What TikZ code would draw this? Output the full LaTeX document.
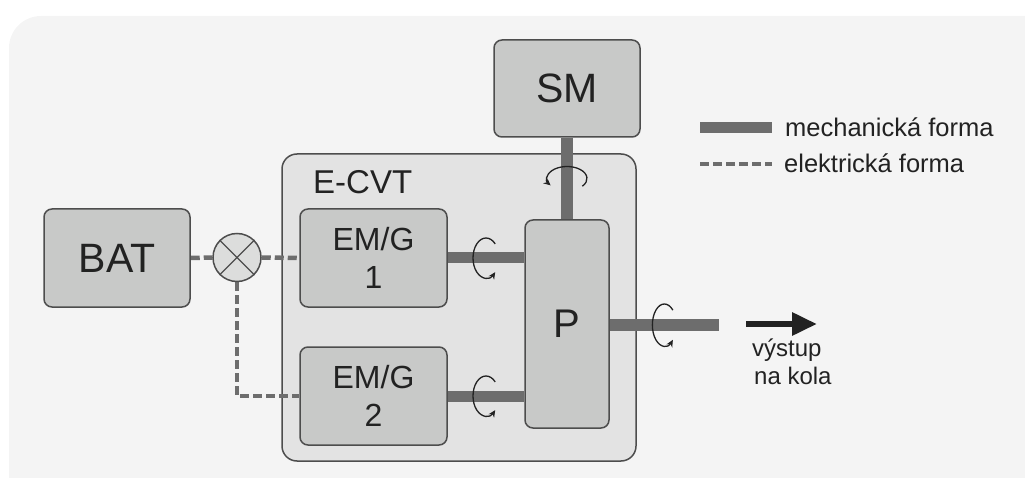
\documentclass[tikz,border=0pt]{standalone}
\usepackage{fontspec}
\setmainfont{Liberation Sans}
\usetikzlibrary{arrows.meta,calc}
\pgfdeclarelayer{back}
\pgfdeclarelayer{shafts}
\pgfsetlayers{back,shafts,main}
\definecolor{bgc}{HTML}{F4F4F4}
\definecolor{cvtc}{HTML}{E3E3E3}
\definecolor{boxc}{HTML}{C8C9C8}
\definecolor{edgec}{HTML}{4D4D4D}
\definecolor{shaftc}{HTML}{6D6D6D}
\definecolor{txtc}{HTML}{222222}
\definecolor{mixc}{HTML}{DCDDDC}
\tikzset{
  unit/.style={draw=edgec, line width=1.5pt, fill=boxc, rounded corners=8pt,
    text=txtc, inner sep=0pt, align=center},
  shaft/.style={draw=shaftc, line width=12pt},
  wire/.style={draw=shaftc, line width=4.5pt, dash pattern=on 9pt off 4pt},
  spin/.style={draw=txtc, line width=1.3pt, -{Stealth[length=7pt,width=6.5pt]}},
  label/.style={anchor=base west, text=txtc, inner sep=0pt},
}
\begin{document}
\begin{tikzpicture}[x=1pt,y=-1pt]
\useasboundingbox (0,0) rectangle (1025,478);

% panel and the E-CVT housing
\begin{pgfonlayer}{back}
  \clip (0,0) rectangle (1025,478);
  \fill[bgc, rounded corners=32pt] (9,16) rectangle (1080,520);
  \node[draw=edgec, line width=1.5pt, fill=cvtc, rounded corners=15pt,
        minimum width=354pt, minimum height=307pt, inner sep=0pt] (cvt) at (459,307.5) {};
\end{pgfonlayer}
\node[label, font=\fontsize{33}{33}\selectfont] (cvtlabel) at (313,194) {E-CVT};

% units
\node[unit, minimum width=146pt, minimum height=98pt, font=\fontsize{41}{41}\selectfont] (bat) at (117,258) {BAT};
\node[unit, minimum width=147pt, minimum height=98pt, font=\fontsize{32}{38}\selectfont] (emg1) at (373.5,258) {EM/G\\1};
\node[unit, minimum width=147pt, minimum height=98pt, font=\fontsize{32}{38}\selectfont] (emg2) at (373.5,396) {EM/G\\2};
\node[unit, minimum width=84pt, minimum height=208pt, font=\fontsize{40}{40}\selectfont] (p) at (567,324) {P};
\node[unit, minimum width=146pt, minimum height=97pt, font=\fontsize{41}{41}\selectfont] (sm) at (567,88.5) {SM};

% power split node
\node[circle, draw=edgec, line width=1.5pt, fill=mixc, minimum size=48pt, inner sep=0pt] (mix) at (237,257.5) {};
\draw[edgec, line width=1.3pt] (mix.north west) -- (mix.south east)
                               (mix.north east) -- (mix.south west);

% shafts and electric links
\coordinate (out) at (719,325);
\begin{pgfonlayer}{shafts}
  \draw[shaft] (sm.south) -- (p.north);
  \draw[shaft, line width=11pt] (emg1.east) -- (emg1.east -| p.west);
  \draw[shaft, line width=11pt] (emg2.east) -- (emg2.east -| p.west);
  \draw[shaft] (p.east |- out) -- (out);
  \draw[wire] (bat.east) -- (mix.west);
  \draw[wire] (mix.east) -- (emg1.west);
  \draw[wire] (mix.south) |- (emg2.west);
\end{pgfonlayer}

% rotation marks
\coordinate (r1) at ($(emg1.east)!0.5!(emg1.east -| p.west)$);
\coordinate (r2) at ($(emg2.east)!0.5!(emg2.east -| p.west)$);
\coordinate (r3) at ($(sm.south)!0.5!(p.north)$);
\coordinate (r4) at ($(p.east |- out)!0.5!(out)$);
\draw[spin] ($(r1)+(45:13pt and 20pt)$) arc[start angle=45, end angle=315, x radius=13pt, y radius=20pt];
\draw[spin] ($(r2)+(45:13pt and 20pt)$) arc[start angle=45, end angle=315, x radius=13pt, y radius=20pt];
\draw[spin] ($(r4)+(45:12pt and 21pt)$) arc[start angle=45, end angle=315, x radius=12pt, y radius=21pt];
\draw[spin] ($(r3)+(-40:20pt and 12pt)$) arc[start angle=-40, end angle=215, x radius=20pt, y radius=12pt];

% output to the wheels
\coordinate (a1) at (746,324);
\coordinate (a2) at (817,324);
\draw[txtc, line width=6pt, -{Triangle[length=25pt,width=22pt]}] (a1) -- (a2);
\node[label, font=\fontsize{24}{24}\selectfont] (vys1) at (752,356) {výstup};
\node[label, font=\fontsize{24}{24}\selectfont] (vys2) at (754,384) {na kola};

% legend
\coordinate (l1a) at (700,127.5);
\coordinate (l1b) at (772,127.5);
\coordinate (l2a) at (700,164);
\coordinate (l2b) at (772,164);
\draw[shaft, line width=11pt] (l1a) -- (l1b);
\draw[wire] (l2a) -- (l2b);
\node[label, font=\fontsize{25.5}{25.5}\selectfont] (leg1) at (785,137) {mechanická forma};
\node[label, font=\fontsize{25.5}{25.5}\selectfont] (leg2) at (784,173) {elektrická forma};
\end{tikzpicture}
\end{document}
